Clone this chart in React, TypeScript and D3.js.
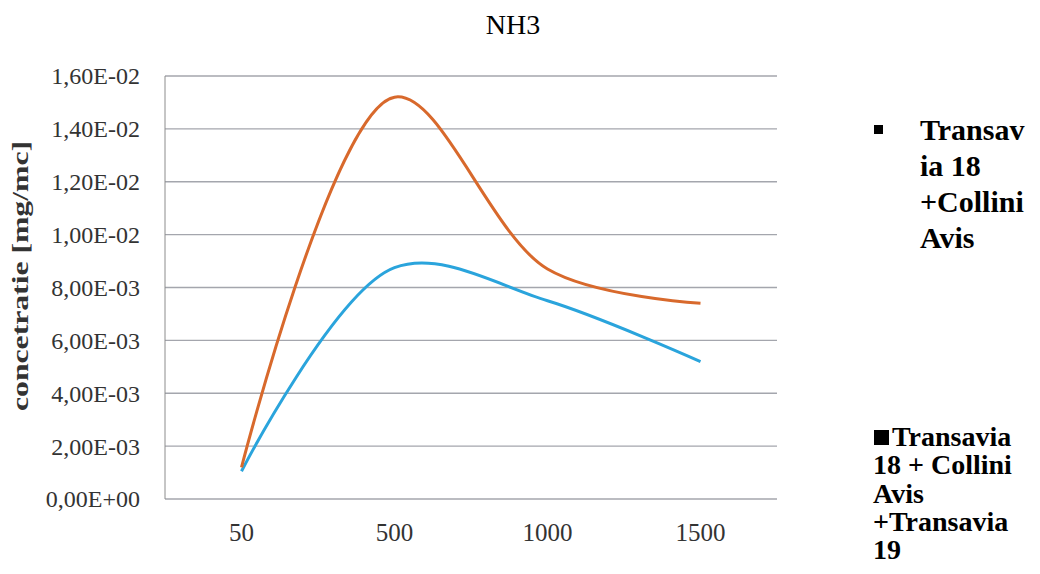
import React, { useRef, useEffect } from 'react';
import * as d3 from 'd3';

const categories = ['50', '500', '1000', '1500'];
const seriesA = [1.05e-3, 8.75e-3, 7.5e-3, 5.2e-3];
const seriesB = [1.2e-3, 1.52e-2, 8.7e-3, 7.4e-3];
const legendA = ['Transav', 'ia 18', '+Collini', 'Avis'];
const legendB = ['Transavia', '18 + Collini', 'Avis', '+Transavia', '19'];

const dims = {
  width: 1040,
  height: 574,
  left: 165,
  right: 777,
  top: 76,
  bottom: 499,
};

const fmt = (v: number) => {
  const [m, e] = v.toExponential(2).split('e');
  const sign = e[0] === '-' ? '-' : '+';
  const ex = e.replace(/[+-]/, '').padStart(2, '0');
  return `${m.replace('.', ',')}E${sign}${ex}`;
};

const App = () => {
  const svgRef = useRef<SVGSVGElement>(null);

  useEffect(() => {
    const svg = d3.select(svgRef.current);
    svg.selectAll('*').remove();
    const font = '"Liberation Serif", "Times New Roman", serif';

    const x = d3
      .scaleBand<string>()
      .domain(categories)
      .range([dims.left, dims.right]);
    const y = d3
      .scaleLinear()
      .domain([0, 0.016])
      .range([dims.bottom, dims.top]);
    const cx = (c: string) => (x(c) as number) + x.bandwidth() / 2;

    // grid
    const ticks = y.ticks(8);
    svg
      .append('g')
      .selectAll('line')
      .data(ticks)
      .join('line')
      .attr('x1', dims.left)
      .attr('x2', dims.right)
      .attr('y1', (d) => y(d))
      .attr('y2', (d) => y(d))
      .attr('stroke', '#a4a6ad')
      .attr('stroke-width', 1.3);

    svg
      .append('line')
      .attr('x1', dims.left)
      .attr('x2', dims.left)
      .attr('y1', dims.top)
      .attr('y2', dims.bottom)
      .attr('stroke', '#8c8c8c')
      .attr('stroke-width', 1);

    // y tick labels
    svg
      .append('g')
      .selectAll('text')
      .data(ticks)
      .join('text')
      .attr('x', 140)
      .attr('y', (d) => y(d))
      .attr('dy', '0.35em')
      .attr('text-anchor', 'end')
      .attr('font-family', font)
      .attr('font-size', 24)
      .attr('fill', '#333')
      .text((d) => fmt(d));

    // x labels
    svg
      .append('g')
      .selectAll('text')
      .data(categories)
      .join('text')
      .attr('x', (d) => cx(d))
      .attr('y', 541)
      .attr('text-anchor', 'middle')
      .attr('font-family', font)
      .attr('font-size', 25)
      .attr('fill', '#333')
      .text((d) => d);

    // lines
    const line = d3
      .line<number>()
      .x((_, i) => cx(categories[i]))
      .y((d) => y(d))
      .curve(d3.curveCatmullRom.alpha(0.5));

    svg
      .append('path')
      .attr('d', line(seriesA))
      .attr('fill', 'none')
      .attr('stroke', '#2aa4dc')
      .attr('stroke-width', 3);
    svg
      .append('path')
      .attr('d', line(seriesB))
      .attr('fill', 'none')
      .attr('stroke', '#d8692c')
      .attr('stroke-width', 3);

    // title
    svg
      .append('text')
      .attr('x', 513)
      .attr('y', 34)
      .attr('text-anchor', 'middle')
      .attr('font-family', font)
      .attr('font-size', 28)
      .text('NH3');

    // y axis title
    svg
      .append('text')
      .attr('transform', 'translate(28,276) rotate(-90)')
      .attr('text-anchor', 'middle')
      .attr('font-family', font)
      .attr('font-weight', 'bold')
      .attr('font-size', 23)
      .attr('fill', '#333')
      .attr('textLength', 270)
      .attr('lengthAdjust', 'spacingAndGlyphs')
      .text('concetratie [mg/mc]');

    // legend 1
    svg
      .append('rect')
      .attr('x', 874)
      .attr('y', 125)
      .attr('width', 9)
      .attr('height', 9)
      .attr('fill', '#000');
    svg
      .append('g')
      .selectAll('text')
      .data(legendA)
      .join('text')
      .attr('x', 920)
      .attr('y', (_, i) => 140 + i * 36)
      .attr('font-family', font)
      .attr('font-weight', 'bold')
      .attr('font-size', 30)
      .text((d) => d);

    // legend 2
    svg
      .append('rect')
      .attr('x', 874)
      .attr('y', 430)
      .attr('width', 15)
      .attr('height', 15)
      .attr('fill', '#000');
    svg
      .append('g')
      .selectAll('text')
      .data(legendB)
      .join('text')
      .attr('x', (_, i) => (i === 0 ? 892 : 873))
      .attr('y', (_, i) => 446 + i * 28.3)
      .attr('font-family', font)
      .attr('font-weight', 'bold')
      .attr('font-size', 28)
      .text((d) => d);
  }, []);

  return (
    <svg
      ref={svgRef}
      width={dims.width}
      height={dims.height}
      style={{ position: 'absolute', left: 0, top: 0, background: '#fff' }}
    ></svg>
  );
};

export default App;
